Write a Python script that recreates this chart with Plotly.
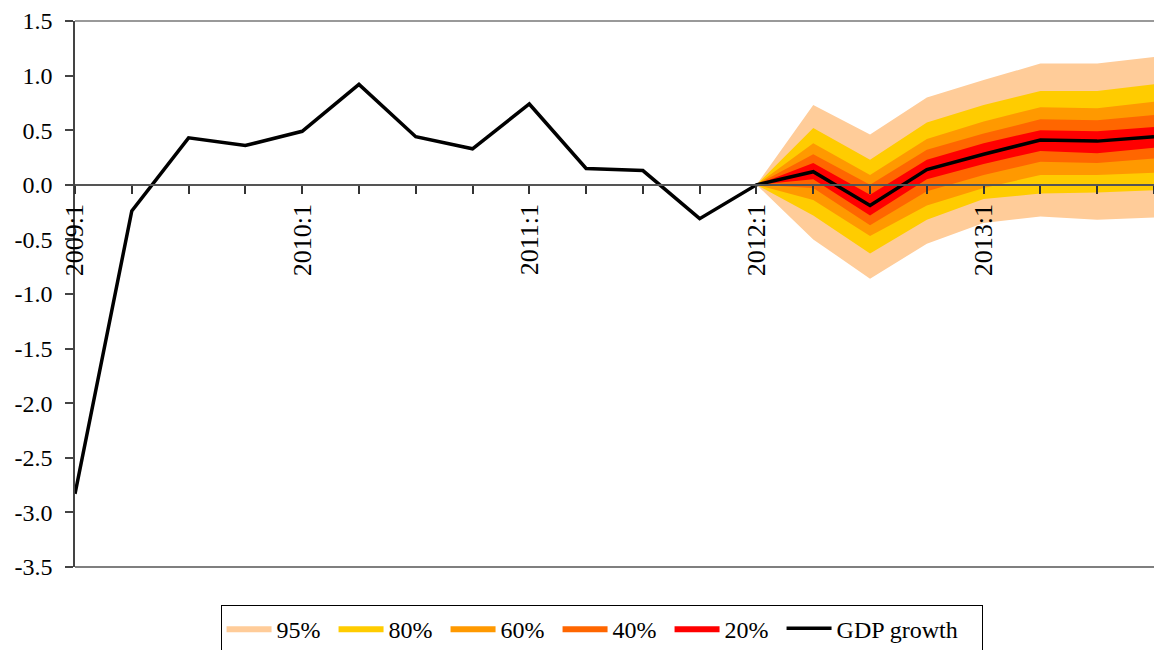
import plotly.graph_objects as go

quarters = ["2009:1", "2009:2", "2009:3", "2009:4",
            "2010:1", "2010:2", "2010:3", "2010:4",
            "2011:1", "2011:2", "2011:3", "2011:4",
            "2012:1", "2012:2", "2012:3", "2012:4",
            "2013:1", "2013:2", "2013:3", "2013:4"]
gdp_growth = [-2.83, -0.24, 0.43, 0.36,
              0.49, 0.92, 0.44, 0.33,
              0.74, 0.15, 0.13, -0.31,
              0.00, 0.12, -0.19, 0.14,
              0.28, 0.41, 0.40, 0.44]

# forecast fan (2012:1 .. 2013:4)
upper_95 = [0, 0.73, 0.46, 0.80, 0.96, 1.11, 1.11, 1.17]
upper_80 = [0, 0.52, 0.23, 0.57, 0.73, 0.86, 0.86, 0.92]
upper_60 = [0, 0.38, 0.09, 0.42, 0.58, 0.71, 0.70, 0.76]
upper_40 = [0, 0.28, 0.00, 0.32, 0.47, 0.60, 0.59, 0.64]
upper_20 = [0, 0.20, -0.09, 0.23, 0.38, 0.50, 0.49, 0.53]
lower_20 = [0, 0.05, -0.28, 0.05, 0.19, 0.31, 0.29, 0.34]
lower_40 = [0, -0.03, -0.37, -0.06, 0.09, 0.21, 0.20, 0.24]
lower_60 = [0, -0.14, -0.47, -0.19, -0.03, 0.09, 0.09, 0.11]
lower_80 = [0, -0.28, -0.63, -0.32, -0.13, -0.08, -0.07, -0.05]
lower_95 = [0, -0.50, -0.86, -0.54, -0.35, -0.29, -0.32, -0.30]

y_ticks = [-3.5, -3.0, -2.5, -2.0, -1.5, -1.0, -0.5, 0.0, 0.5, 1.0, 1.5]
y_ticktext = ["-3.5", "-3.0", "-2.5", "-2.0", "-1.5", "-1.0", "-0.5", "0.0", "0.5", "1.0", "1.5"]

bands = [("95%", upper_95, lower_95, "#FFCC99"),
         ("80%", upper_80, lower_80, "#FFCC00"),
         ("60%", upper_60, lower_60, "#FF9900"),
         ("40%", upper_40, lower_40, "#FF6600"),
         ("20%", upper_20, lower_20, "#FF0000")]

idx = list(range(len(quarters)))
fan_idx = idx[12:]

fig = go.Figure()
for name, up, lo, col in bands:
    fig.add_trace(go.Scatter(
        x=fan_idx + fan_idx[::-1],
        y=up + lo[::-1],
        fill="toself", fillcolor=col,
        line=dict(width=0, color=col),
        mode="lines", name=name, hoverinfo="skip",
        legendwidth=52))

fig.add_trace(go.Scatter(x=idx, y=gdp_growth, mode="lines",
                         line=dict(color="black", width=3.5),
                         name="GDP growth", legendwidth=140))

ticktext = [q if q.endswith(":1") else "" for q in quarters]

serif = "Liberation Serif"
zero_pos = (0 - (-3.5)) / (1.5 - (-3.5))

fig.update_layout(
    width=1154, height=650,
    margin=dict(l=75, r=0, t=21, b=83, autoexpand=False),
    plot_bgcolor="white", paper_bgcolor="white",
    font=dict(family=serif, color="black"),
    xaxis=dict(range=[0, 19], tickmode="array", tickvals=idx, ticktext=ticktext,
               anchor="free", position=zero_pos, showline=True, automargin=False,
               linecolor="#555555", linewidth=1.5, ticks="outside", ticklen=8,
               tickcolor="#333333", tickwidth=1.5, tickangle=-90,
               tickfont=dict(size=26, family=serif), showgrid=False, zeroline=False),
    yaxis=dict(range=[-3.5, 1.5], tickmode="array", tickvals=y_ticks, ticktext=y_ticktext,
               showline=True, linecolor="#444444", linewidth=1.5, automargin=False,
               ticks="outside", ticklen=8, tickcolor="#444444", tickwidth=1.5,
               tickfont=dict(size=24, family=serif), showgrid=False, zeroline=False,
               ticklabelstandoff=8),
    legend=dict(orientation="h", x=0.488, xanchor="center", y=-0.07, yanchor="top",
                bordercolor="black", borderwidth=1, bgcolor="white",
                font=dict(size=24, family=serif), traceorder="normal",
                itemwidth=45),
    showlegend=True,
    shapes=[
        dict(type="line", xref="paper", yref="paper", x0=0, x1=1, y0=1, y1=1,
             line=dict(color="#777777", width=1.5)),
        dict(type="line", xref="paper", yref="paper", x0=0, x1=1, y0=0, y1=0,
             line=dict(color="#555555", width=1.5)),
    ],
)

fig.write_html("out.html", config={"displayModeBar": False},
               post_script="document.body.style.margin='0';document.body.style.overflow='hidden';")
